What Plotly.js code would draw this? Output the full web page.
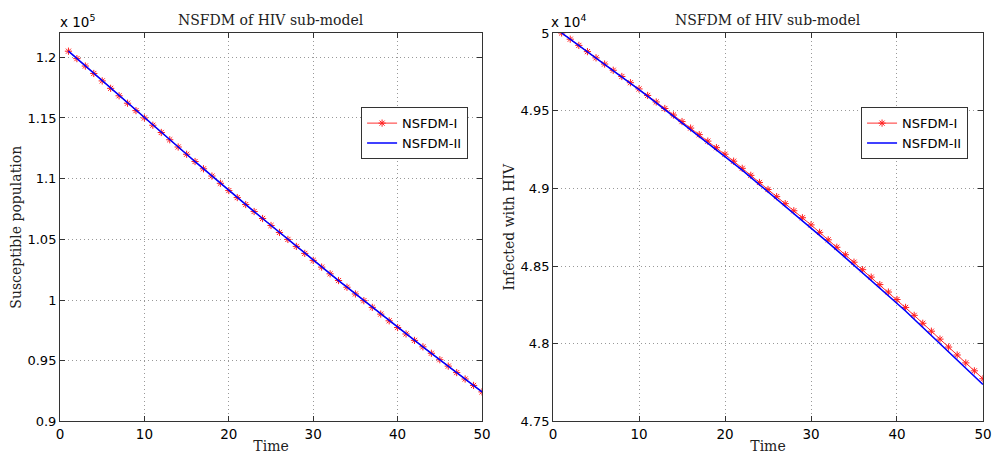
<!DOCTYPE html>
<html>
<head>
<meta charset="utf-8">
<script src="https://cdn.plot.ly/plotly-3.0.1.min.js"></script>
<style>html,body{margin:0;padding:0;background:#fff;}#chart{width:992px;height:458px;}</style>
</head>
<body>
<div id="chart"></div>
<script>
var time = [1,2,3,4,5,6,7,8,9,10,11,12,13,14,15,16,17,18,19,20,21,22,23,24,25,26,27,28,29,30,31,32,33,34,35,36,37,38,39,40,41,42,43,44,45,46,47,48,49,50];

var susceptibleI = [120500,119888,119276,118664,118052,117440,116828,116216,115604,115000,
  114402,113804,113206,112608,112010,111412,110814,110216,109618,109020,
  108445,107870,107295,106720,106145,105570,104995,104420,103845,103270,
  102717,102164,101611,101058,100505,99952,99399,98846,98293,97740,
  97210,96680,96150,95620,95090,94560,94030,93500,92970,92440];
var susceptibleII = [120500,119888,119276,118664,118052,117440,116828,116216,115604,115000,
  114402,113804,113206,112608,112010,111412,110814,110216,109618,109020,
  108445,107870,107295,106720,106145,105570,104995,104420,103845,103270,
  102717,102164,101611,101058,100505,99952,99399,98846,98293,97740,
  97210,96680,96150,95620,95090,94560,94030,93500,92970,92440];

var infectedI = [50000,49960,49920,49880,49840,49800,49760,49720,49680,49640,
  49598,49556,49514,49472,49430,49388,49346,49304,49262,49220,
  49175,49129,49084,49038,48993,48947,48902,48856,48811,48765,
  48717,48669,48621,48573,48525,48477,48429,48381,48333,48285,
  48234,48183,48132,48081,48030,47979,47928,47877,47826,47775];
var infectedII = [50000,49960,49919,49879,49838,49798,49757,49716,49676,49635,
  49593,49550,49508,49465,49423,49380,49338,49295,49253,49210,
  49164,49118,49071,49025,48979,48933,48887,48840,48794,48748,
  48700,48651,48603,48554,48506,48457,48409,48360,48312,48263,
  48211,48158,48106,48053,48001,47948,47896,47843,47791,47738];

var xTicks = [0,10,20,30,40,50];
var leftTickVals = [90000,95000,100000,105000,110000,115000,120000];
var leftTickText = ['0.9','0.95','1','1.05','1.1','1.15','1.2'];
var rightTickVals = [47500,48000,48500,49000,49500,50000];
var rightTickText = ['4.75','4.8','4.85','4.9','4.95','5'];
var seriesNames = ['NSFDM-I','NSFDM-II'];
var plotTitle = 'NSFDM of HIV sub-model';

var sans = 'DejaVu Sans, Arial, sans-serif';
var serif = 'DejaVu Serif, Liberation Serif, serif';

function redTrace(y, xa, ya, lg) {
  return {x: time, y: y, xaxis: xa, yaxis: ya, legend: lg, name: seriesNames[0], type: 'scatter',
    mode: 'lines+markers', line: {color: '#ff3030', width: 1},
    marker: {symbol: 'asterisk-open', size: 6, color: '#ff2020', line: {color: '#ff2020', width: 1}}};
}
function blueTrace(y, xa, ya, lg) {
  return {x: time, y: y, xaxis: xa, yaxis: ya, legend: lg, name: seriesNames[1], type: 'scatter',
    mode: 'lines', line: {color: '#0000ff', width: 1.6}};
}

var data = [
  redTrace(susceptibleI, 'x', 'y', 'legend'),
  blueTrace(susceptibleII, 'x', 'y', 'legend'),
  redTrace(infectedI, 'x2', 'y2', 'legend2'),
  blueTrace(infectedII, 'x2', 'y2', 'legend2')
];

function xAxis(dom, anchor) {
  return {domain: dom, anchor: anchor, range: [0, 50], tickvals: xTicks, ticks: 'inside', ticklen: 5,
    tickcolor: '#333', showline: true, linecolor: '#333', linewidth: 1, mirror: 'allticks',
    showgrid: true, gridcolor: '#999', griddash: '1px,3px', gridwidth: 1, zeroline: false,
    tickfont: {family: sans, size: 13.5, color: '#000'},
    title: {text: 'Time', font: {family: serif, size: 14, color: '#222'}, standoff: 0}};
}
function yAxis(dom, anchor, range, vals, text, label) {
  return {domain: dom, anchor: anchor, range: range, tickvals: vals, ticktext: text, ticks: 'inside', ticklen: 5,
    tickcolor: '#333', showline: true, linecolor: '#333', linewidth: 1, mirror: 'allticks',
    showgrid: true, gridcolor: '#999', griddash: '1px,3px', gridwidth: 1, zeroline: false,
    tickfont: {family: sans, size: 13, color: '#000'},
    title: {text: label, font: {family: serif, size: 14, color: '#222'}, standoff: 2}};
}

var yDom = [0.0797, 0.928];
var legendStyle = function (x) {
  return {x: x, y: 0.766, xanchor: 'left', yanchor: 'top', bgcolor: '#fff', bordercolor: '#333', borderwidth: 1,
    font: {family: sans, size: 13, color: '#000'}, itemwidth: 30, tracegroupgap: 0};
};

var layout = {
  width: 992, height: 458, margin: {l: 0, r: 0, t: 0, b: 0},
  paper_bgcolor: '#fff', plot_bgcolor: '#fff', showlegend: true,
  xaxis: xAxis([0.0605, 0.4859], 'y'),
  yaxis: yAxis(yDom, 'x', [90000, 122000], leftTickVals, leftTickText, 'Susceptible population'),
  xaxis2: xAxis([0.5575, 0.9909], 'y2'),
  yaxis2: yAxis(yDom, 'x2', [47500, 50000], rightTickVals, rightTickText, 'Infected with HIV'),
  legend: legendStyle(0.364),
  legend2: legendStyle(0.868),
  annotations: [
    {text: plotTitle, xref: 'paper', yref: 'paper', x: 0.2732, y: 0.957, xanchor: 'center', yanchor: 'middle', showarrow: false,
      font: {family: serif, size: 14, color: '#222'}},
    {text: plotTitle, xref: 'paper', yref: 'paper', x: 0.7742, y: 0.957, xanchor: 'center', yanchor: 'middle', showarrow: false,
      font: {family: serif, size: 14, color: '#222'}},
    {text: 'x 10<sup>5</sup>', xref: 'paper', yref: 'paper', x: 0.0585, y: 0.93, xanchor: 'left', yanchor: 'bottom', showarrow: false,
      font: {family: sans, size: 13.5, color: '#000'}},
    {text: 'x 10<sup>4</sup>', xref: 'paper', yref: 'paper', x: 0.5535, y: 0.93, xanchor: 'left', yanchor: 'bottom', showarrow: false,
      font: {family: sans, size: 13.5, color: '#000'}}
  ]
};

Plotly.newPlot('chart', data, layout, {displayModeBar: false, staticPlot: true});
</script>
</body>
</html>
